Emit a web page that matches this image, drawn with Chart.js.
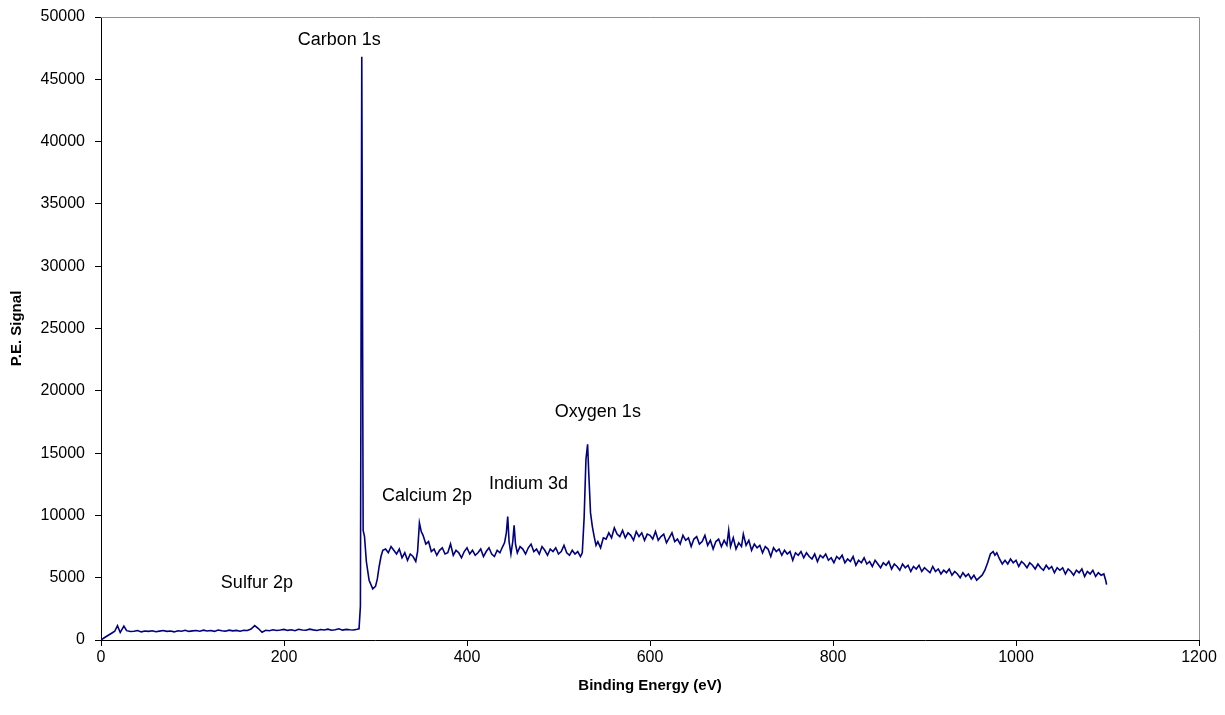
<!DOCTYPE html>
<html>
<head>
<meta charset="utf-8">
<title>XPS survey</title>
<script src="https://cdn.jsdelivr.net/npm/chart.js@4/dist/chart.umd.min.js"></script>
<style>
    body { margin: 0; background: #fff; }
    canvas { display: block; }
</style>
</head>
<body>
<canvas id="xpsChart" width="1225" height="715"></canvas>
<script>
// ===== DATA (binding energy in eV, P.E. signal) =====
const lowEnergyRegion = [
    [0, 0], [4, 200], [8, 380], [12, 560], [15, 700], [18, 1150], [21, 600], [25, 1120], [28, 750], [32, 680],
    [36, 700], [40, 760], [44, 650], [48, 720], [52, 690], [56, 740], [60, 660], [64, 710], [68, 760], [72, 690],
    [76, 720], [80, 650], [84, 740], [88, 700], [92, 780], [96, 690], [100, 730], [104, 760], [108, 700], [112, 790],
    [116, 720], [120, 760], [124, 690], [128, 800], [132, 740], [136, 710], [140, 790], [144, 730], [148, 770], [152, 700],
    [156, 780], [160, 760], [164, 880], [168, 1150], [172, 920], [176, 620], [180, 780], [184, 740], [188, 820], [192, 760],
    [196, 800], [200, 850], [204, 770], [208, 820], [212, 740], [216, 860], [220, 800], [224, 780], [228, 870], [232, 810],
    [236, 760], [240, 840], [244, 800], [248, 870], [252, 780], [256, 820], [260, 900], [264, 790], [268, 850], [272, 820],
    [276, 800], [280, 860]
];

const carbonRegion = [
    [282, 900], [283.5, 2700], [285, 46800], [286.5, 8800], [288, 8300], [290, 6300], [293, 4800], [297, 4100],
    [300, 4300], [302, 4900], [304, 5900], [306, 6700], [308, 7200]
];

const calciumRegion = [
    [311, 7300], [314, 7000], [317, 7500], [320, 7200], [323, 6900], [326, 7300], [329, 6600], [332, 7000],
    [335, 6400], [338, 6900], [341, 6700], [344, 6300], [346, 7100], [348, 9400], [350, 8700], [352, 8400],
    [355, 7700], [358, 7900], [361, 7100], [364, 7300], [367, 6800], [370, 7200], [373, 7400], [376, 6900],
    [379, 7000], [382, 7700], [385, 6800], [388, 7200], [391, 7000], [394, 6600], [397, 7100], [400, 7400],
    [403, 6900], [406, 7200], [409, 6800], [412, 7000], [415, 7300], [418, 6700], [421, 7100], [424, 7400],
    [427, 6900], [430, 6700], [433, 7200], [436, 7000], [439, 7500]
];

const indiumRegion = [
    [441, 7800], [443, 8600], [444.5, 9900], [446, 7900], [448, 6900], [450, 7900], [451.5, 9200], [453, 7700],
    [455, 7000], [458, 7500], [461, 7300], [464, 6900], [467, 7400], [470, 7700], [473, 7100], [476, 7300],
    [479, 6900], [482, 7500], [485, 7200], [488, 6800], [491, 7300], [494, 7100], [497, 7400], [500, 6900],
    [503, 7100], [506, 7600], [509, 7000], [512, 6800], [515, 7200], [518, 6900], [521, 7100], [524, 6700],
    [526, 7000]
];

const oxygenRegion = [
    [528, 9800], [530, 14500], [531.8, 15700], [533, 13500], [535, 10200], [537, 9100], [539, 8300], [541, 7600],
    [543, 7900], [546, 7400], [549, 8200], [552, 8100], [555, 8600], [558, 8200], [561, 9000], [564, 8500],
    [567, 8300], [570, 8800], [573, 8200], [576, 8600], [579, 8400], [582, 8000], [585, 8700], [588, 8300],
    [591, 8600], [594, 8000], [597, 8500]
];

const highEnergyRegion = [
    [600, 8400], [603, 8100], [606, 8700], [609, 8000], [612, 8300], [615, 8500], [618, 7800], [621, 8200],
    [624, 8600], [627, 7900], [630, 8100], [633, 7700], [636, 8400], [639, 8000], [642, 8200], [645, 7500],
    [648, 8100], [651, 8300], [654, 7700], [657, 7900], [660, 8400], [663, 7600], [666, 8000], [669, 7300],
    [672, 7900], [675, 8100], [678, 7500], [681, 8000], [684, 7600], [686, 8800], [688, 7500], [691, 8200],
    [694, 7300], [697, 7800], [700, 7500], [702, 8500], [705, 7600], [708, 8000], [711, 7200], [714, 7700],
    [717, 7400], [720, 7600], [723, 7000], [726, 7500], [729, 7300], [732, 6700], [735, 7400], [738, 7100],
    [741, 7300], [744, 6800], [747, 7200], [750, 6900], [753, 7100], [756, 6400], [759, 7000], [762, 6800],
    [765, 7100], [768, 6600], [771, 7000], [774, 6700], [777, 6500], [780, 6900], [783, 6300], [786, 6800],
    [789, 6600], [792, 6900], [795, 6400], [798, 6600], [801, 6200], [804, 6700], [807, 6500], [810, 6800],
    [813, 6200], [816, 6500], [819, 6300], [822, 6700], [825, 6000], [828, 6400], [831, 6200], [834, 6600],
    [837, 6100], [840, 6300], [843, 5900], [846, 6400], [849, 6100], [852, 5800], [855, 6200], [858, 6000],
    [861, 6300], [864, 5700], [867, 6100], [870, 5900], [873, 5600], [876, 6100], [879, 5800], [882, 6000],
    [885, 5500], [888, 5900], [891, 5700], [894, 6000], [897, 5500], [900, 5800], [903, 5600], [906, 5400],
    [909, 5900], [912, 5500], [915, 5700], [918, 5300], [921, 5600], [924, 5400], [927, 5700], [930, 5200],
    [933, 5500], [936, 5300], [939, 5000], [942, 5400], [945, 5100], [948, 5300], [951, 4900], [954, 5200],
    [957, 4800], [960, 5000], [963, 5200], [966, 5600], [969, 6200], [972, 6900], [975, 7100], [977, 6800],
    [979, 7000], [982, 6500], [985, 6100], [988, 6400], [991, 6100], [994, 6500], [997, 6200], [1000, 6400],
    [1003, 5900], [1006, 6300], [1009, 6100], [1012, 5800], [1015, 6200], [1018, 6000], [1021, 5700], [1024, 6100],
    [1027, 5800], [1030, 5600], [1033, 6000], [1036, 5700], [1039, 5900], [1042, 5400], [1045, 5800], [1048, 5600],
    [1051, 5800], [1054, 5300], [1057, 5700], [1060, 5500], [1063, 5200], [1066, 5600], [1069, 5400], [1072, 5700],
    [1075, 5100], [1078, 5500], [1081, 5300], [1084, 5600], [1087, 5100], [1090, 5400], [1093, 5200], [1096, 5300],
    [1098, 4800], [1099, 4450]
];

// peak labels, placed in data units (left edge of text, vertical middle)
const peakLabels = ["Carbon 1s", "Sulfur 2p", "Calcium 2p", "Indium 3d", "Oxygen 1s"];
const labelEnergies = [215, 131, 307, 424, 496];
const labelSignals = [48150, 4575, 11560, 12520, 18300];

const xTicks = [0, 200, 400, 600, 800, 1000, 1200];
const yTicks = [0, 5000, 10000, 15000, 20000, 25000, 30000, 35000, 40000, 45000, 50000];

const FONT = '"Liberation Sans", Arial, Helvetica, sans-serif';

// ===== BUILD SERIES =====
const spectrum = [].concat(lowEnergyRegion, carbonRegion, calciumRegion, indiumRegion, oxygenRegion, highEnergyRegion)
    .map(p => ({ x: p[0], y: p[1] }));

// gray frame on top/right + peak names
const framePlugin = {
    id: "framePlugin",
    afterDatasetsDraw(chart) {
        const { ctx, chartArea, scales } = chart;
        ctx.save();
        ctx.strokeStyle = "#8f8f8f";
        ctx.lineWidth = 1;
        ctx.beginPath();
        ctx.moveTo(chartArea.left, chartArea.top + 0.5);
        ctx.lineTo(chartArea.right + 0.5, chartArea.top + 0.5);
        ctx.lineTo(chartArea.right + 0.5, chartArea.bottom);
        ctx.stroke();

        ctx.fillStyle = "#000";
        ctx.font = "18px " + FONT;
        ctx.textAlign = "left";
        ctx.textBaseline = "middle";
        peakLabels.forEach((text, i) => {
            ctx.fillText(text, scales.x.getPixelForValue(labelEnergies[i]), scales.y.getPixelForValue(labelSignals[i]));
        });
        ctx.restore();
    }
};

new Chart(document.getElementById("xpsChart"), {
    type: "line",
    data: {
        datasets: [{
            data: spectrum,
            borderColor: "#000080",
            borderWidth: 1.6,
            pointRadius: 0,
            tension: 0,
            fill: false,
        }],
    },
    options: {
        responsive: false,
        animation: false,
        events: [],
        layout: { padding: { top: 17, right: 26, left: 0, bottom: 0 } },
        plugins: { legend: { display: false }, tooltip: { enabled: false } },
        scales: {
            x: {
                type: "linear",
                min: 0,
                max: 1200,
                afterBuildTicks: s => { s.ticks = xTicks.map(v => ({ value: v })); },
                afterFit: s => { s.height = 75; },
                ticks: { color: "#000", font: { family: FONT, size: 16 }, padding: 2, maxRotation: 0, callback: v => String(v) },
                grid: { drawOnChartArea: false, drawTicks: true, tickLength: 6, color: "#000" },
                border: { display: true, color: "#000", width: 1 },
                title: {
                    display: true,
                    text: "Binding Energy (eV)",
                    color: "#000",
                    font: { family: FONT, size: 15, weight: "bold" },
                    padding: { top: 0, bottom: 20 },
                },
            },
            y: {
                min: 0,
                max: 50000,
                afterBuildTicks: s => { s.ticks = yTicks.map(v => ({ value: v })); },
                afterFit: s => { s.width = 101; s.paddingTop = 0; s.paddingBottom = 0; },
                ticks: { color: "#000", font: { family: FONT, size: 16 }, padding: 10, callback: v => String(v) },
                grid: { drawOnChartArea: false, drawTicks: true, tickLength: 6, color: "#000" },
                border: { display: true, color: "#000", width: 1 },
                title: {
                    display: true,
                    text: "P.E. Signal",
                    color: "#000",
                    font: { family: FONT, size: 15, weight: "bold" },
                    padding: { top: 8, bottom: 0 },
                },
            },
        },
    },
    plugins: [framePlugin],
});
</script>
</body>
</html>
